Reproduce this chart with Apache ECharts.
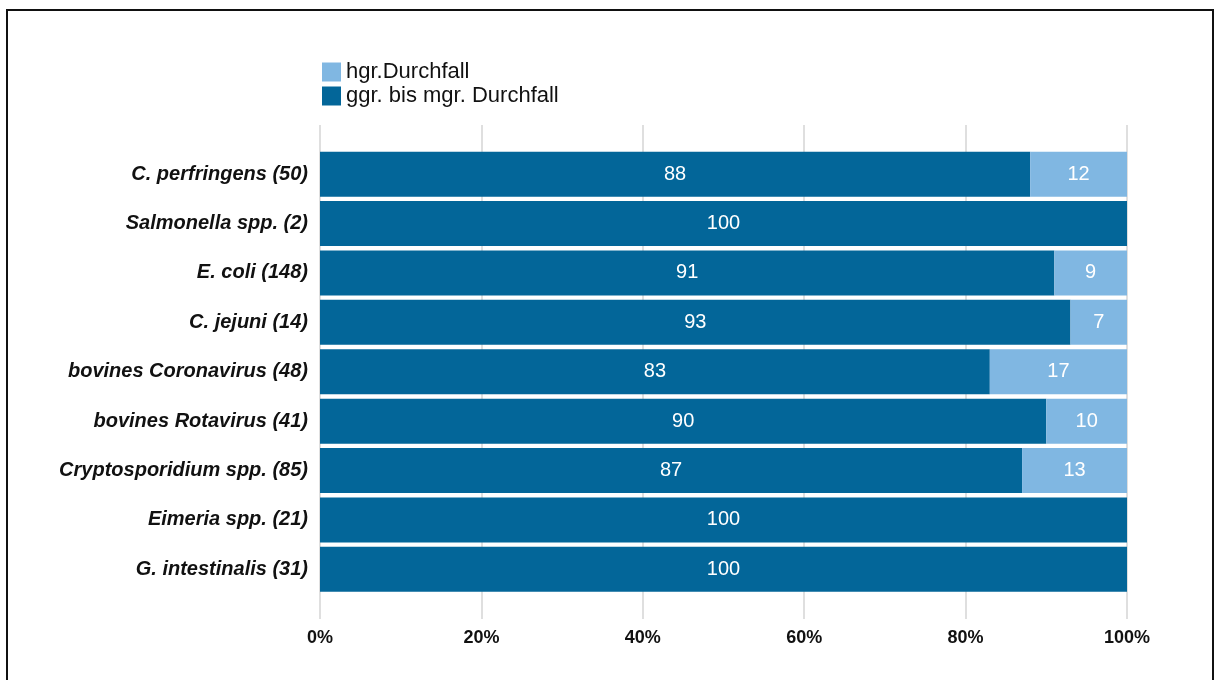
<!DOCTYPE html>
<html>
<head>
<meta charset="utf-8">
<script src="https://cdn.jsdelivr.net/npm/echarts@6/dist/echarts.min.js"></script>
<style>
  html, body { margin: 0; padding: 0; background: #ffffff; }
  #chart { width: 1219px; height: 680px; }
</style>
</head>
<body>
<div id="chart"></div>
<script>
// Pathogen groups (number of positive samples in brackets)
const categories = [
  'C. perfringens (50)',
  'Salmonella spp. (2)',
  'E. coli (148)',
  'C. jejuni (14)',
  'bovines Coronavirus (48)',
  'bovines Rotavirus (41)',
  'Cryptosporidium spp. (85)',
  'Eimeria spp. (21)',
  'G. intestinalis (31)'
];
// Share of calves (%) per diarrhoea severity
const mildModerate = [88, 100, 91, 93, 83, 90, 87, 100, 100];
const severe = [12, 0, 9, 7, 17, 10, 13, 0, 0];
const xTicks = [0, 20, 40, 60, 80, 100];

const FONT = '"Liberation Sans", Arial, sans-serif';
const DARK = '#036699';
const LIGHT = '#80b7e2';

const chart = echarts.init(document.getElementById('chart'), null, { renderer: 'canvas' });

const valueLabel = {
  show: true,
  position: 'inside',
  color: '#ffffff',
  fontFamily: FONT,
  fontSize: 20,
  formatter: p => (p.value ? String(p.value) : '')
};

chart.setOption({
  animation: false,
  backgroundColor: '#ffffff',
  graphic: [{
    type: 'rect',
    shape: { x: 7, y: 10, width: 1206, height: 700 },
    style: { fill: 'none', stroke: '#111111', lineWidth: 2 },
    z: 100
  }],
  legend: {
    orient: 'vertical',
    left: 322,
    top: 61,
    padding: 0,
    itemWidth: 19,
    itemHeight: 19,
    itemGap: 2,
    icon: 'rect',
    data: ['hgr.Durchfall', 'ggr. bis mgr. Durchfall'],
    textStyle: { fontFamily: FONT, fontSize: 22, lineHeight: 19, color: '#111111' }
  },
  grid: [
    { left: 320, width: 807, top: 149.5, height: 444.5 },
    { left: 320, width: 807, top: 125, height: 494 }
  ],
  xAxis: [
    { type: 'value', gridIndex: 0, min: 0, max: 100, interval: 20, show: false },
    {
      type: 'value', gridIndex: 1, min: 0, max: 100, interval: 20,
      axisLine: { show: false },
      axisTick: { show: false },
      splitLine: { show: true, lineStyle: { color: '#d4d4d4', width: 1.5 } },
      axisLabel: {
        margin: 10,
        fontFamily: FONT, fontSize: 18, fontWeight: 'bold', color: '#111111',
        formatter: v => (xTicks.includes(v) ? v + '%' : '')
      }
    }
  ],
  yAxis: [
    {
      type: 'category', gridIndex: 0, data: categories, inverse: true,
      axisLine: { show: false },
      axisTick: { show: false },
      splitLine: { show: false },
      axisLabel: {
        margin: 12,
        fontFamily: FONT, fontSize: 20, fontWeight: 'bold', fontStyle: 'italic', color: '#111111'
      }
    },
    {
      type: 'value', gridIndex: 1, show: false
    }
  ],
  series: [
    {
      name: 'ggr. bis mgr. Durchfall',
      type: 'bar', stack: 'total', xAxisIndex: 0, yAxisIndex: 0,
      barWidth: 45,
      itemStyle: { color: DARK },
      label: valueLabel,
      data: mildModerate
    },
    {
      name: 'hgr.Durchfall',
      type: 'bar', stack: 'total', xAxisIndex: 0, yAxisIndex: 0,
      barWidth: 45,
      itemStyle: { color: LIGHT },
      label: valueLabel,
      data: severe
    }
  ]
});
</script>
</body>
</html>
